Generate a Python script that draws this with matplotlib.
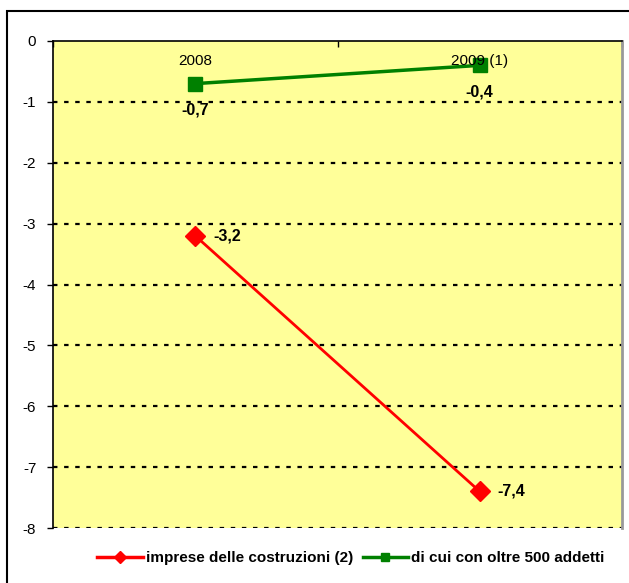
import matplotlib
matplotlib.use("Agg")
import matplotlib.pyplot as plt
from matplotlib.patches import Rectangle
from matplotlib.lines import Line2D

categories = ["2008", "2009 (1)"]
imprese = [-3.2, -7.4]
oltre500 = [-0.7, -0.4]
imprese_labels = ["-3,2", "-7,4"]
oltre500_labels = ["-0,7", "-0,4"]
yticks = [0, -1, -2, -3, -4, -5, -6, -7, -8]
series_names = ["imprese delle costruzioni (2)", "di cui con oltre 500 addetti"]

plt.rcParams['font.family'] = ['Liberation Sans', 'DejaVu Sans']

W, H = 629, 583
fig = plt.figure(figsize=(W / 100, H / 100), dpi=100)
fig.patch.set_facecolor("white")

# outer frame (extends beyond right/bottom edges)
fig.patches.append(Rectangle((7 / W, -0.05), 1.0, 1 - 11 / H + 0.05, transform=fig.transFigure,
                             fill=False, edgecolor="black", linewidth=1.5))

left, right, top, bottom = 53, 622, 41, 528
ax = fig.add_axes([left / W, 1 - bottom / H, (right - left) / W, (bottom - top) / H])
ax.set_facecolor("#FFFF99")

x = [0.5, 1.5]
ax.set_xlim(0, 2)
ax.set_ylim(-8, 0)

for y in yticks[1:]:
    ax.axhline(y, color="black", linestyle=(0, (2, 3)), linewidth=1.6, zorder=1)

ax.plot(x, imprese, color="red", linewidth=2, marker="D", markersize=10, zorder=3)
ax.plot(x, oltre500, color="green", linewidth=2.5, marker="s", markersize=10.5, zorder=3)

for xi, yi, lab in zip(x, imprese, imprese_labels):
    ax.annotate(lab, (xi, yi), xytext=(13, 0), textcoords="offset points",
                ha="left", va="center", fontsize=11.5, fontweight="bold")
for xi, yi, lab in zip(x, oltre500, oltre500_labels):
    ax.annotate(lab, (xi, yi), xytext=(0, -13.5), textcoords="offset points",
                ha="center", va="top", fontsize=11.5, fontweight="bold")

# category labels under top axis
for xi, lab in zip(x, categories):
    ax.text(xi, -0.22, lab, ha="center", va="top", fontsize=11, zorder=4)

ax.set_yticks(yticks)
ax.set_yticklabels([str(v) for v in yticks], fontsize=11)
ax.set_xticks([0, 1, 2])
ax.set_xticklabels([])
ax.xaxis.set_ticks_position("top")
ax.tick_params(axis="x", direction="in", length=4, width=1)
ax.tick_params(axis="y", direction="out", length=4, width=1, pad=8)

ax.spines["top"].set_color("black")
ax.spines["top"].set_linewidth(1.2)
ax.spines["left"].set_color("black")
ax.spines["left"].set_linewidth(1.2)
ax.spines["right"].set_color("#999999")
ax.spines["right"].set_linewidth(2)
ax.spines["bottom"].set_visible(False)

handles = [Line2D([], [], color="red", linewidth=2.5, marker="D", markersize=6),
           Line2D([], [], color="green", linewidth=2.5, marker="s", markersize=5.5)]
leg = fig.legend(handles, series_names, loc="center", bbox_to_anchor=(351 / W, 1 - 558 / H),
                 ncol=2, frameon=False, prop={"size": 11, "weight": "bold"},
                 handlelength=3.0, columnspacing=0.6, handletextpad=0.2)

fig.savefig("out.png", dpi=100)
